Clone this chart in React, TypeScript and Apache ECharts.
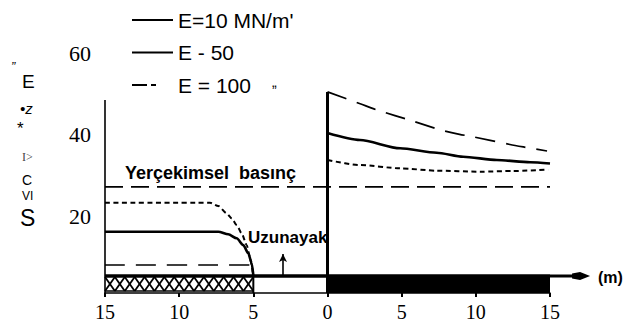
import React, { useEffect, useRef } from "react";
import * as echarts from "echarts";

// ---- data ----
const E_NAMES = ["E=10 MN/m'", "E - 50", "E = 100"];
const Y_TICKS = [20, 40, 60];
const X_MIN = -15;
const X_MAX = 15;
const X_STEP = 5;
const Y_MIN = 1.15;
const Y_MAX = 61.28;

const GRAVITY = 27.2; // Yerçekimsel basınç
const BASE = 5.33; // ground / foundation line
const HATCH_TOP = 5.08;
const HATCH_BOTTOM = 1.64;
const HATCH_FROM = -15;
const HATCH_TO = -5;
const BAND_FROM = 0;
const BAND_TO = 15;
const ARROW_END = 17.7;
const UZUN_X = -3;
const UZUN_TOP = 10.72;
const AXIS_LEFT_TOP = 48.5;
const AXIS_CENTER_TOP = 50.48;

const LEFT_A = [
  [-15, 23.31], [-7.92, 23.31], [-7.36, 22.5], [-6.8, 20.71], [-6.46, 19.48],
  [-6.12, 17.84], [-5.79, 15.8], [-5.45, 12.93], [-5.23, 10.06], [-5.11, 7.84], [-5.04, 6.2],
];
const RIGHT_A = [
  [0, 33.79], [2.19, 32.56], [4.89, 31.75], [7.36, 31.17], [10.28, 30.92],
  [12.51, 31.09], [14.87, 31.46],
];
const LEFT_B = [
  [-15, 16.2], [-7.36, 16.2], [-6.69, 15.56], [-6.12, 14.58], [-5.68, 12.93],
  [-5.34, 10.9], [-5.11, 8.44], [-5.0, 5.52],
];
const RIGHT_B = [
  [0, 40.42], [2.19, 38.7], [4.89, 36.66], [7.36, 35.58], [9.14, 34.6],
  [11.41, 33.79], [13.66, 33.23], [15.0, 32.93],
];
const LEFT_C = [[-15, 8.02], [-5, 8.02]];
const RIGHT_C = [
  [0, 50.5], [2.2, 47.6], [3.3, 46.1], [5.8, 43.3], [7.6, 41.2], [8.9, 40.1],
  [9.8, 39.5], [12.3, 37.6], [13.2, 37.0], [14.8, 36.0],
];

const GAP: any = ["-", "-"];
const join = (l: number[][], r: number[][]) => [...l, GAP, ...r];

const ICON_SOLID = "path://M0,0H41V2H0Z";
const ICON_DASH = "path://M0,0H15V2H0ZM19,0H24V2H19ZM40.9,0H41V0.02H40.9Z";

export default function App() {
  const ref = useRef<HTMLDivElement>(null);
  useEffect(() => {
    if (!ref.current) return;
    const chart = echarts.init(ref.current, null, { renderer: "svg" });
    const black = "#000";
    const txt = (text: string, x: number, y: number, font: string, fill = black) => ({
      type: "text",
      x,
      y,
      silent: true,
      style: { text, font, fill, verticalAlign: "middle" },
    });
    const vline = (x: number, y0: number, y1: number, w: number) => ({
      type: "line",
      data: [[x, y0], [x, y1]],
      symbol: "none",
      silent: true,
      color: black,
      lineStyle: { color: black, width: w },
      z: 5,
    });

    chart.setOption({
      animation: false,
      backgroundColor: "#fff",
      color: [black],
      grid: { left: 105, right: 86, top: 48, bottom: 37 },
      legend: {
        orient: "vertical",
        left: 127,
        top: 4,
        itemWidth: 41,
        itemHeight: 2,
        itemGap: 10.5,
        selectedMode: false,
        textStyle: { fontFamily: "Liberation Sans", fontSize: 21, color: black, lineHeight: 22 },
        data: [
          { name: E_NAMES[0], icon: ICON_SOLID, itemStyle: { color: black } },
          { name: E_NAMES[1], icon: ICON_SOLID, itemStyle: { color: black } },
          { name: E_NAMES[2], icon: ICON_DASH, itemStyle: { color: black } },
        ],
      },
      xAxis: {
        type: "value",
        min: X_MIN,
        max: X_MAX,
        interval: X_STEP,
        axisLine: { onZero: false, lineStyle: { color: black, width: 1.5 } },
        axisTick: { length: 4, lineStyle: { color: black, width: 2 } },
        splitLine: { show: false },
        axisLabel: {
          formatter: (v: number) => String(Math.abs(v)),
          margin: 9,
          fontFamily: "Liberation Serif",
          fontSize: 20,
          color: black,
        },
      },
      yAxis: {
        type: "value",
        min: Y_MIN,
        max: Y_MAX,
        axisLine: { show: false },
        axisTick: { show: false },
        splitLine: { show: false },
        axisLabel: {
          customValues: Y_TICKS,
          margin: 14,
          fontFamily: "Liberation Serif",
          fontSize: 22,
          color: black,
        },
      },
      series: [
        {
          name: E_NAMES[0],
          type: "line",
          data: join(LEFT_A, RIGHT_A),
          symbol: "none",
          smooth: 0.25,
          smoothMonotone: "x",
          itemStyle: { color: black },
          lineStyle: { color: black, width: 2, type: [5, 3.5] },
          z: 4,
        },
        {
          name: E_NAMES[1],
          type: "line",
          data: join(LEFT_B, RIGHT_B),
          symbol: "none",
          smooth: 0.25,
          smoothMonotone: "x",
          itemStyle: { color: black },
          lineStyle: { color: black, width: 2.6, type: "solid" },
          z: 4,
        },
        {
          name: E_NAMES[2],
          type: "line",
          data: join(LEFT_C, RIGHT_C),
          symbol: "none",
          smooth: 0.25,
          itemStyle: { color: black },
          lineStyle: { color: black, width: 1.7, type: [20, 11] },
          z: 4,
        },
        {
          name: "gravity",
          type: "line",
          data: [[X_MIN, GRAVITY], [X_MAX, GRAVITY]],
          symbol: "none",
          silent: true,
          lineStyle: { color: black, width: 1.7, type: [18, 8] },
        },
        {
          name: "band",
          type: "line",
          data: [[BAND_FROM, BASE], [BAND_TO, BASE]],
          symbol: "none",
          silent: true,
          lineStyle: { color: black, width: 2 },
          areaStyle: { color: black, opacity: 1, origin: "start" },
        },
        {
          name: "base",
          type: "line",
          data: [[X_MIN, BASE], [X_MAX, BASE]],
          symbol: "none",
          silent: true,
          lineStyle: { color: black, width: 3.5 },
          z: 6,
        },
        {
          name: "baseArrow",
          type: "custom",
          silent: true,
          clip: false,
          data: [[X_MAX, ARROW_END, BASE]],
          renderItem: (params: any, api: any) => {
            const a = api.coord([api.value(0), api.value(2)]);
            const b = api.coord([api.value(1), api.value(2)]);
            return {
              type: "group",
              children: [
                {
                  type: "line",
                  shape: { x1: a[0], y1: a[1], x2: b[0] - 6, y2: b[1] },
                  style: { stroke: black, lineWidth: 3 },
                },
                {
                  type: "polygon",
                  shape: {
                    points: [
                      [b[0] - 18, b[1] - 2.5],
                      [b[0] - 10, b[1] - 4],
                      [b[0], b[1]],
                      [b[0] - 10, b[1] + 4],
                      [b[0] - 18, b[1] + 2.5],
                    ],
                  },
                  style: { fill: black },
                },
              ],
            };
          },
        },
        {
          name: "uzun",
          type: "line",
          data: [],
          symbol: "none",
          silent: true,
          markLine: {
            silent: true,
            symbol: ["none", "arrow"],
            symbolSize: [6, 8],
            label: { show: false },
            lineStyle: { color: black, width: 1.6, type: "solid" },
            data: [[{ coord: [UZUN_X, BASE] }, { coord: [UZUN_X, UZUN_TOP] }]],
          },
        },
        {
          name: "hatch",
          type: "custom",
          silent: true,
          clip: false,
          data: [[HATCH_FROM, HATCH_TO, HATCH_TOP, HATCH_BOTTOM]],
          renderItem: (params: any, api: any) => {
            const p0 = api.coord([api.value(0), api.value(2)]);
            const p1 = api.coord([api.value(1), api.value(3)]);
            const n = Math.max(1, Math.round((p1[0] - p0[0]) / 10));
            const w = (p1[0] - p0[0]) / n;
            const children: any[] = [];
            for (let i = 0; i < n; i++) {
              const xa = p0[0] + i * w;
              children.push({
                type: "line",
                shape: { x1: xa, y1: p0[1], x2: xa + w, y2: p1[1] },
                style: { stroke: black, lineWidth: 1.8 },
              });
              children.push({
                type: "line",
                shape: { x1: xa, y1: p1[1], x2: xa + w, y2: p0[1] },
                style: { stroke: black, lineWidth: 1.8 },
              });
            }
            children.push({
              type: "line",
              shape: { x1: p0[0], y1: p1[1], x2: p1[0], y2: p1[1] },
              style: { stroke: black, lineWidth: 1.5 },
            });
            return { type: "group", children };
          },
        },
        vline(X_MIN, Y_MIN, AXIS_LEFT_TOP, 1.6),
        vline(0, Y_MIN, AXIS_CENTER_TOP, 3),
        vline(HATCH_TO, Y_MIN, BASE, 2),
      ],
      graphic: [
        txt("\u201D", 11, 66, "italic 13px Liberation Sans"),
        txt("E", 22, 81, "19px Liberation Sans"),
        txt("\u2022z", 20, 108, "italic 15px Liberation Sans"),
        txt("*", 17, 128, "17px Liberation Sans"),
        txt("I>", 22, 157, "12px Liberation Serif", "#444"),
        txt("C", 22, 180, "14px Liberation Sans"),
        txt("VI", 22, 196, "12px Liberation Sans"),
        txt("S", 20, 218, "23px Liberation Sans"),
        txt("\u201E", 272, 82, "14px Liberation Sans"),
        txt("Yerçekimsel  basınç", 125, 173, "bold 18px Liberation Sans"),
        txt("Uzunayak", 248, 237, "bold 17px Liberation Sans"),
        txt("(m)", 598, 277, "bold 16px Liberation Sans"),
      ],
    });
    return () => chart.dispose();
  }, []);
  return (
    <div
      ref={ref}
      style={{ position: "fixed", left: 0, top: 0, width: 636, height: 330, background: "#fff" }}
    />
  );
}
